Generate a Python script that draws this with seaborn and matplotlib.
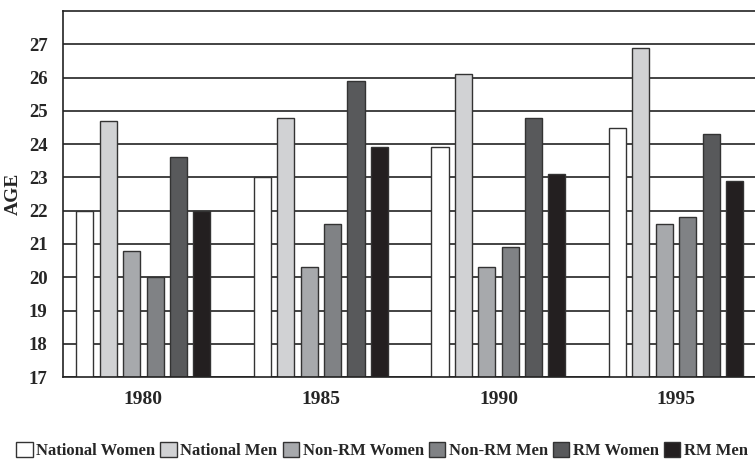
import numpy as np
import pandas as pd
import matplotlib.pyplot as plt
import seaborn as sns

# ---- data ----
years = ['1980', '1985', '1990', '1995']
groups = ['National Women', 'National Men', 'Non-RM Women', 'Non-RM Men', 'RM Women', 'RM Men']
national_women = [22.0, 23.0, 23.9, 24.5]
national_men = [24.7, 24.8, 26.1, 26.9]
nonrm_women = [20.8, 20.3, 20.3, 21.6]
nonrm_men = [20.0, 21.6, 20.9, 21.8]
rm_women = [23.6, 25.9, 24.8, 24.3]
rm_men = [22.0, 23.9, 23.1, 22.9]
colors = ['#ffffff', '#d1d2d4', '#a7a9ac', '#808285', '#58595b', '#231f20']

series = [national_women, national_men, nonrm_women, nonrm_men, rm_women, rm_men]
rows = []
for g, vals in zip(groups, series):
    for yr, v in zip(years, vals):
        rows.append({'year': yr, 'age': v, 'group': g})
df = pd.DataFrame(rows)

sns.set_style('white')
plt.rcParams['font.family'] = ['Liberation Serif', 'DejaVu Serif']
plt.rcParams['font.weight'] = 'bold'

fig = plt.figure(figsize=(7.55, 4.61), dpi=100)
ax = fig.add_axes([0.0834, 0.182, 0.9166, 0.794])

sns.barplot(data=df, x='year', y='age', hue='group', hue_order=groups,
            palette=colors, width=0.79, gap=0.27, edgecolor='#333333',
            linewidth=1.0, saturation=1, ax=ax)

ax.set_ylim(17, 28)
ax.set_xlim(-0.453, 3.445)
ax.set_yticks(range(17, 28))
ax.yaxis.grid(True, color='#222222', linewidth=1.2)
ax.set_axisbelow(True)
ax.tick_params(axis='y', length=0, labelsize=13.5, pad=11)
ax.tick_params(axis='x', length=0, labelsize=14, pad=10)
for lab in ax.get_xticklabels() + ax.get_yticklabels():
    lab.set_fontweight('bold')
ax.set_xlabel('')
ax.set_ylabel('AGE', fontsize=14, fontweight='bold', labelpad=5)

for side in ['left', 'top', 'bottom']:
    ax.spines[side].set_color('#222222')
    ax.spines[side].set_linewidth(1.2)
ax.spines['right'].set_visible(False)

handles, labels = ax.get_legend_handles_labels()
ax.legend(handles, labels, loc='center', bbox_to_anchor=(0.506, 0.023),
          bbox_transform=fig.transFigure, ncol=6, frameon=False,
          prop={'size': 12, 'weight': 'bold'},
          handlelength=1.0, handleheight=1.0, handletextpad=0.2,
          columnspacing=0.3, borderaxespad=0, borderpad=0)

fig.savefig('out.png', dpi=100)
